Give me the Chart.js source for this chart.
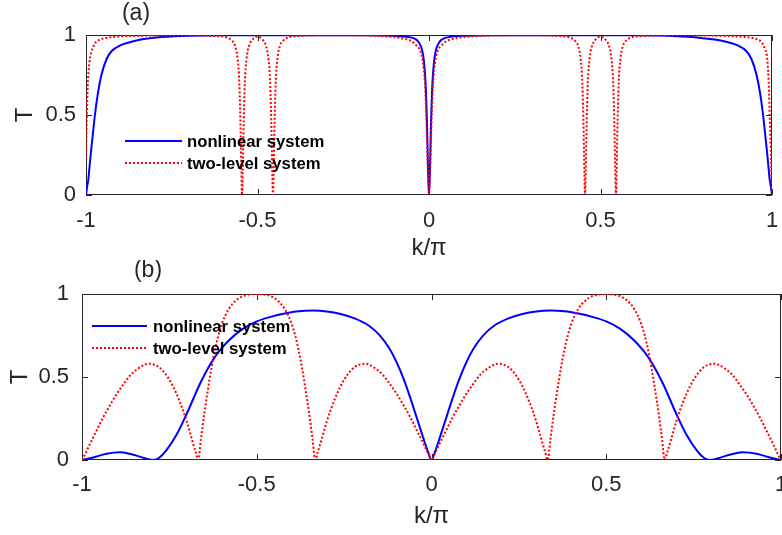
<!DOCTYPE html>
<html>
<head>
<meta charset="utf-8">
<script src="https://cdn.jsdelivr.net/npm/chart.js@4.4.0/dist/chart.umd.min.js"></script>
<style>
  body { margin: 0; background: #fff; }
  #wrapA { position: absolute; left: 0; top: 0; width: 782px; height: 260px; }
  #wrapB { position: absolute; left: 0; top: 260px; width: 782px; height: 275px; }
</style>
</head>
<body>
<div id="wrapA"><canvas id="chartA"></canvas></div>
<div id="wrapB"><canvas id="chartB"></canvas></div>
<script>
// axis ticks and labels
var xTicks = [-1, -0.5, 0, 0.5, 1];
var yTicks = [0, 0.5, 1];
var seriesNames = ['nonlinear system', 'two-level system'];
var xTitle = 'k/\u03c0';
var yTitle = 'T';

// panel (a)
var kNonlinA = [-1, -0.997, -0.993, -0.99, -0.985, -0.98, -0.974, -0.965, -0.955, -0.94,
  -0.925, -0.9, -0.88, -0.85, -0.82, -0.78, -0.74, -0.7, -0.6, -0.4,
  -0.2, -0.1, -0.06, -0.04, -0.03, -0.02, -0.015, -0.01, -0.006, -0.003,
  0, 0.003, 0.006, 0.01, 0.015, 0.02, 0.03, 0.04, 0.06, 0.1,
  0.2, 0.4, 0.6, 0.7, 0.74, 0.78, 0.82, 0.85, 0.88, 0.9,
  0.925, 0.94, 0.955, 0.965, 0.974, 0.98, 0.985, 0.99, 0.993, 0.997, 1];
var tNonlinA = [0, 0.05, 0.10, 0.17, 0.28, 0.38, 0.50, 0.64, 0.75, 0.85,
  0.90, 0.935, 0.95, 0.967, 0.978, 0.987, 0.992, 0.995, 0.998, 0.999,
  0.998, 0.995, 0.988, 0.975, 0.955, 0.905, 0.84, 0.70, 0.46, 0.18,
  0, 0.18, 0.46, 0.70, 0.84, 0.905, 0.955, 0.975, 0.988, 0.995,
  0.998, 0.999, 0.998, 0.995, 0.99, 0.985, 0.975, 0.965, 0.95, 0.935,
  0.90, 0.85, 0.75, 0.64, 0.50, 0.38, 0.28, 0.17, 0.10, 0.05, 0];

var kTwoLevelA = [-1, -0.998, -0.995, -0.99, -0.985, -0.98, -0.97, -0.96, -0.95, -0.92,
  -0.88, -0.8, -0.7, -0.62, -0.59, -0.575, -0.565, -0.558, -0.553, -0.549,
  -0.547, -0.545, -0.543, -0.541, -0.537, -0.532, -0.525, -0.515, -0.5, -0.485,
  -0.475, -0.468, -0.463, -0.459, -0.457, -0.455, -0.453, -0.451, -0.447, -0.442,
  -0.435, -0.425, -0.41, -0.38, -0.3, -0.2, -0.12, -0.08, -0.05, -0.035,
  -0.025, -0.018, -0.012, -0.008, -0.004, 0, 0.004, 0.008, 0.012, 0.018,
  0.025, 0.035, 0.05, 0.08, 0.12, 0.2, 0.3, 0.38, 0.41, 0.425,
  0.435, 0.442, 0.447, 0.451, 0.453, 0.455, 0.457, 0.459, 0.463, 0.468,
  0.475, 0.485, 0.5, 0.515, 0.525, 0.532, 0.537, 0.541, 0.543, 0.545,
  0.547, 0.549, 0.553, 0.558, 0.565, 0.575, 0.59, 0.62, 0.7, 0.8,
  0.88, 0.92, 0.95, 0.96, 0.97, 0.98, 0.985, 0.99, 0.995, 0.998, 1];
var tTwoLevelA = [0.23, 0.45, 0.68, 0.83, 0.89, 0.92, 0.96, 0.97, 0.978, 0.988,
  0.993, 0.997, 0.998, 0.993, 0.985, 0.965, 0.93, 0.85, 0.70, 0.38,
  0.15, 0, 0.15, 0.38, 0.70, 0.85, 0.93, 0.97, 0.99, 0.97,
  0.93, 0.85, 0.70, 0.38, 0.15, 0, 0.15, 0.38, 0.70, 0.85,
  0.93, 0.965, 0.985, 0.993, 0.998, 0.997, 0.99, 0.98, 0.96, 0.93,
  0.90, 0.83, 0.70, 0.50, 0.20, 0, 0.20, 0.50, 0.70, 0.83,
  0.90, 0.93, 0.96, 0.98, 0.99, 0.997, 0.998, 0.993, 0.985, 0.965,
  0.93, 0.85, 0.70, 0.38, 0.15, 0, 0.15, 0.38, 0.70, 0.85,
  0.93, 0.97, 0.99, 0.97, 0.93, 0.85, 0.70, 0.38, 0.15, 0,
  0.15, 0.38, 0.70, 0.85, 0.93, 0.965, 0.985, 0.993, 0.998, 0.997,
  0.993, 0.988, 0.978, 0.97, 0.955, 0.91, 0.87, 0.72, 0.38, 0.15, 0];

// panel (b)
var kNonlinB = [-1, -0.96, -0.93, -0.89, -0.85, -0.82, -0.795, -0.78, -0.76, -0.73,
  -0.7, -0.66, -0.62, -0.58, -0.54, -0.5, -0.46, -0.42, -0.38, -0.34,
  -0.3, -0.26, -0.22, -0.18, -0.15, -0.12, -0.1, -0.08, -0.06, -0.04,
  -0.02, -0.01, 0, 0.01, 0.02, 0.04, 0.06, 0.08, 0.1, 0.12,
  0.15, 0.18, 0.22, 0.26, 0.3, 0.34, 0.38, 0.42, 0.46, 0.5,
  0.54, 0.58, 0.62, 0.66, 0.7, 0.73, 0.76, 0.78, 0.795, 0.82,
  0.85, 0.89, 0.93, 0.96, 1];
var tNonlinB = [0, 0.02, 0.038, 0.047, 0.03, 0.01, 0, 0.012, 0.055, 0.15,
  0.28, 0.47, 0.62, 0.72, 0.79, 0.835, 0.862, 0.882, 0.896, 0.9,
  0.895, 0.88, 0.853, 0.81, 0.755, 0.67, 0.59, 0.49, 0.37, 0.24,
  0.11, 0.05, 0, 0.05, 0.11, 0.24, 0.37, 0.49, 0.59, 0.67,
  0.755, 0.81, 0.853, 0.88, 0.895, 0.9, 0.896, 0.882, 0.862, 0.835,
  0.79, 0.72, 0.62, 0.47, 0.28, 0.15, 0.055, 0.012, 0, 0.01,
  0.03, 0.047, 0.038, 0.02, 0];

var kTwoLevelB = [-1, -0.99, -0.98, -0.96, -0.94, -0.92, -0.9, -0.88, -0.86, -0.84,
  -0.82, -0.81, -0.8, -0.78, -0.76, -0.74, -0.72, -0.7, -0.685, -0.675,
  -0.667, -0.66, -0.65, -0.64, -0.63, -0.62, -0.61, -0.6, -0.58, -0.56,
  -0.54, -0.52, -0.5, -0.48, -0.46, -0.44, -0.42, -0.4, -0.39, -0.38,
  -0.37, -0.36, -0.35, -0.34, -0.333, -0.325, -0.315, -0.3, -0.28, -0.26,
  -0.24, -0.22, -0.2, -0.19, -0.18, -0.16, -0.14, -0.12, -0.1, -0.08,
  -0.06, -0.04, -0.02, -0.01, 0, 0.01, 0.02, 0.04, 0.06, 0.08,
  0.1, 0.12, 0.14, 0.16, 0.18, 0.19, 0.2, 0.22, 0.24, 0.26,
  0.28, 0.3, 0.315, 0.325, 0.333, 0.34, 0.35, 0.36, 0.37, 0.38,
  0.39, 0.4, 0.42, 0.44, 0.46, 0.48, 0.5, 0.52, 0.54, 0.56,
  0.58, 0.6, 0.61, 0.62, 0.63, 0.64, 0.65, 0.66, 0.667, 0.675,
  0.685, 0.7, 0.72, 0.74, 0.76, 0.78, 0.8, 0.81, 0.82, 0.84,
  0.86, 0.88, 0.9, 0.92, 0.94, 0.96, 0.98, 0.99, 1];
var tTwoLevelB = [0, 0.04, 0.085, 0.17, 0.255, 0.33, 0.4, 0.46, 0.515, 0.55,
  0.575, 0.58, 0.578, 0.56, 0.515, 0.445, 0.35, 0.23, 0.12, 0.05,
  0, 0.12, 0.28, 0.42, 0.55, 0.66, 0.75, 0.82, 0.91, 0.96,
  0.987, 0.997, 1, 0.997, 0.987, 0.96, 0.91, 0.82, 0.75, 0.66,
  0.55, 0.42, 0.28, 0.12, 0, 0.05, 0.12, 0.23, 0.35, 0.445,
  0.515, 0.56, 0.578, 0.58, 0.575, 0.55, 0.515, 0.46, 0.4, 0.33,
  0.255, 0.17, 0.085, 0.04, 0, 0.04, 0.085, 0.17, 0.255, 0.33,
  0.4, 0.46, 0.515, 0.55, 0.575, 0.58, 0.578, 0.56, 0.515, 0.445,
  0.35, 0.23, 0.12, 0.05, 0, 0.12, 0.28, 0.42, 0.55, 0.66,
  0.75, 0.82, 0.91, 0.96, 0.987, 0.997, 1, 0.997, 0.987, 0.96,
  0.91, 0.82, 0.75, 0.66, 0.55, 0.42, 0.28, 0.12, 0, 0.05,
  0.12, 0.23, 0.35, 0.445, 0.515, 0.56, 0.578, 0.58, 0.575, 0.55,
  0.515, 0.46, 0.4, 0.33, 0.255, 0.17, 0.085, 0.04, 0];

var fontFamily = '"Liberation Sans", Arial, Helvetica, sans-serif';
var axisColor = '#262626';

function pts(ks, ts) {
  return ks.map(function (k, i) { return { x: k, y: ts[i] }; });
}

// box, inward ticks, legend and panel label in MATLAB style
var matlabAxes = {
  id: 'matlabAxes',
  beforeDatasetsDraw: function (chart, args, o) {
    var ctx = chart.ctx, a = chart.chartArea;
    var xs = chart.scales.x, ys = chart.scales.y;
    ctx.save();
    ctx.strokeStyle = axisColor;
    ctx.lineWidth = 1;
    ctx.strokeRect(a.left + 0.5, a.top + 0.5, a.right - a.left - 1, a.bottom - a.top - 1);
    ctx.beginPath();
    xTicks.forEach(function (v) {
      var px = Math.round(xs.getPixelForValue(v)) + 0.5;
      ctx.moveTo(px, a.bottom); ctx.lineTo(px, a.bottom - 6);
      ctx.moveTo(px, a.top); ctx.lineTo(px, a.top + 6);
    });
    yTicks.forEach(function (v) {
      var py = Math.round(ys.getPixelForValue(v)) + 0.5;
      ctx.moveTo(a.left, py); ctx.lineTo(a.left + 6, py);
      ctx.moveTo(a.right, py); ctx.lineTo(a.right - 6, py);
    });
    ctx.stroke();
    ctx.restore();
  },
  afterDatasetsDraw: function (chart, args, o) {
    var ctx = chart.ctx;
    ctx.save();
    ctx.fillStyle = axisColor;
    ctx.textAlign = 'center';
    ctx.textBaseline = 'middle';
    ctx.font = '23px ' + fontFamily;
    ctx.fillText(o.label, o.labelX, o.labelY);

    chart.data.datasets.forEach(function (ds, i) {
      var y = o.legY + i * o.legGap;
      ctx.strokeStyle = ds.borderColor;
      ctx.lineWidth = ds.borderWidth;
      ctx.setLineDash(ds.borderDash || []);
      ctx.beginPath();
      ctx.moveTo(o.legX, y);
      ctx.lineTo(o.legX + o.legLen, y);
      ctx.stroke();
      ctx.setLineDash([]);
      ctx.fillStyle = '#000';
      ctx.textAlign = 'left';
      ctx.font = 'bold 16.7px ' + fontFamily;
      ctx.fillText(ds.label, o.legTextX, y + 1);
    });
    ctx.restore();
  }
};

function noPad(s) {
  s.paddingLeft = 0; s.paddingRight = 0; s.paddingTop = 0; s.paddingBottom = 0;
}

function makeChart(id, kN, tN, kT, tT, p) {
  return new Chart(document.getElementById(id), {
    type: 'line',
    data: {
      datasets: [{
        label: seriesNames[0],
        data: pts(kN, tN),
        borderColor: '#0000ff',
        borderWidth: 2,
        pointRadius: 0,
        cubicInterpolationMode: 'monotone',
        order: 1
      }, {
        label: seriesNames[1],
        data: pts(kT, tT),
        borderColor: '#ff0000',
        borderWidth: 2,
        borderDash: [2, 2],
        pointRadius: 0,
        cubicInterpolationMode: 'monotone',
        order: 0
      }]
    },
    options: {
      responsive: true,
      maintainAspectRatio: false,
      animation: false,
      devicePixelRatio: 1,
      layout: { padding: { top: p.top, right: p.right, left: 0, bottom: 0 } },
      scales: {
        x: {
          type: 'linear',
          min: -1, max: 1,
          grid: { display: false, drawTicks: false },
          border: { display: false },
          afterBuildTicks: function (s) { s.ticks = xTicks.map(function (v) { return { value: v }; }); },
          afterFit: function (s) { s.height = p.xHeight; noPad(s); },
          ticks: {
            autoSkip: false, maxRotation: 0, padding: p.xTickPad,
            color: axisColor, font: { family: fontFamily, size: 22 },
            callback: function (v) { return String(v); }
          },
          title: {
            display: true, text: xTitle, color: axisColor,
            font: { family: fontFamily, size: 24, lineHeight: 1 },
            padding: { top: 0, bottom: p.xTitlePad }
          }
        },
        y: {
          min: 0, max: 1,
          grid: { display: false, drawTicks: false },
          border: { display: false },
          afterBuildTicks: function (s) { s.ticks = yTicks.map(function (v) { return { value: v }; }); },
          afterFit: function (s) { s.width = p.yWidth; noPad(s); },
          ticks: {
            padding: p.yTickPad,
            color: axisColor, font: { family: fontFamily, size: 22 },
            callback: function (v) { return String(v); }
          },
          title: {
            display: true, text: yTitle, color: axisColor,
            font: { family: fontFamily, size: 24, lineHeight: 1 },
            padding: { top: p.yTitlePad, bottom: 0 }
          }
        }
      },
      plugins: {
        legend: { display: false },
        tooltip: { enabled: false },
        matlabAxes: p.deco
      }
    },
    plugins: [matlabAxes]
  });
}

var chartA = makeChart('chartA', kNonlinA, tNonlinA, kTwoLevelA, tTwoLevelA, {
  top: 35, right: 10, xHeight: 65, yWidth: 86,
  xTickPad: 13, yTickPad: 10, xTitlePad: 0, yTitlePad: 13,
  deco: { label: '(a)', labelX: 136, labelY: 14, legX: 125, legY: 141, legGap: 22, legLen: 57, legTextX: 187 }
});

var chartB = makeChart('chartB', kNonlinB, tNonlinB, kTwoLevelB, tTwoLevelB, {
  top: 34, right: 1, xHeight: 75, yWidth: 82,
  xTickPad: 12, yTickPad: 13, xTitlePad: 7, yTitlePad: 8,
  deco: { label: '(b)', labelX: 148, labelY: 11, legX: 92, legY: 66, legGap: 22, legLen: 55, legTextX: 153 }
});
</script>
</body>
</html>
